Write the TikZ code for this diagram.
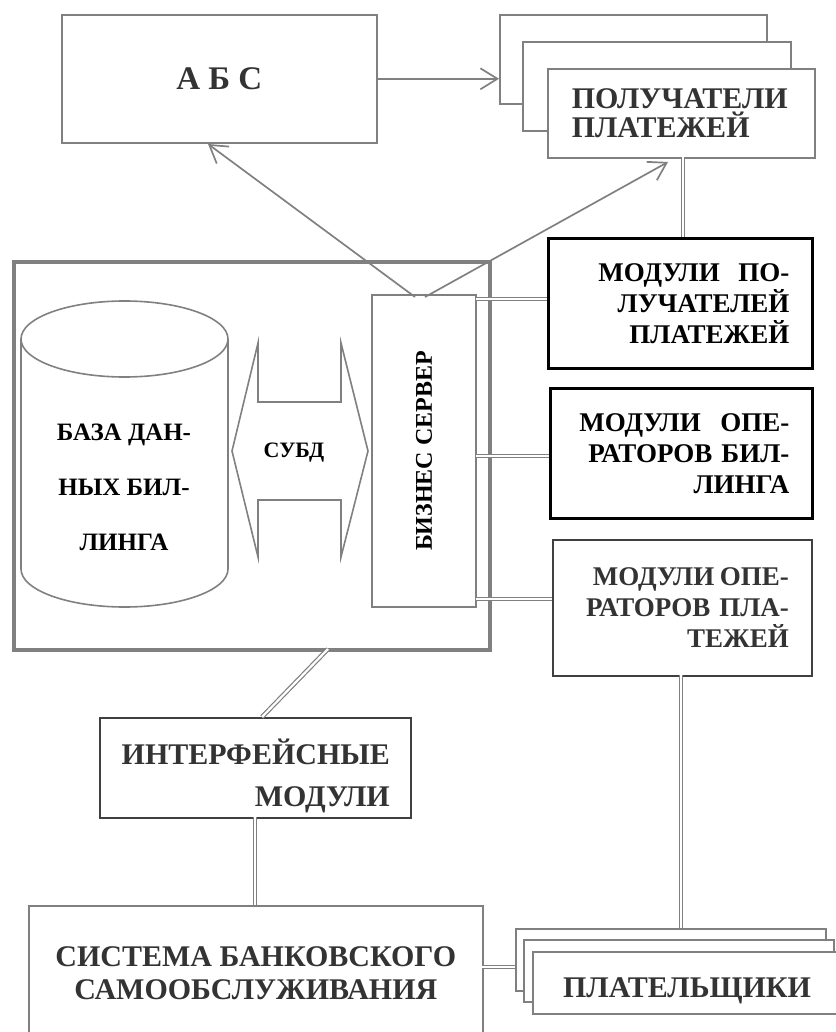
\documentclass[tikz,border=0pt]{standalone}
\usepackage{fontspec}
\setmainfont{Liberation Serif}
\usetikzlibrary{arrows.meta}
\definecolor{lg}{HTML}{808080}
\definecolor{tx}{HTML}{333333}
\definecolor{bd}{HTML}{404040}
\newcommand\myfs[2]{\fontsize{#1}{#2}\selectfont\bfseries}
\begin{document}
\begin{tikzpicture}[x=1pt,y=-1pt,
  box/.style={draw=lg, line width=1.6pt, fill=white, inner sep=0pt, anchor=north west},
  mbox/.style={draw=black, line width=2.8pt, fill=white, inner ysep=0pt, anchor=north west, align=right, text=black, font=\myfs{27}{31}},
  dbl/.style={draw=lg, double=white, double distance=2.2pt, line width=1.2pt},
  arr/.style={draw=lg, line width=1.7pt, -{Straight Barb[length=17pt,width=21pt]}},
  lbl/.style={inner sep=0pt, align=center}
]
\useasboundingbox (0,0) rectangle (835,1032);

% outer system frame
\node[box, line width=3.5pt, fill=none, minimum width=476pt, minimum height=388pt] (outer) at (12,260) {};

% database cylinder
\draw[draw=lg, line width=1.6pt] (124.5,339) ellipse[x radius=103.5pt, y radius=38pt];
\draw[draw=lg, line width=1.6pt] (21,339) -- (21,569) arc[start angle=180, end angle=360, x radius=103.5pt, y radius=38pt] -- (228,339);
\node[lbl, font=\myfs{25}{55}] (db) at (124,487) {БАЗА ДАН-\\НЫХ БИЛ-\\ЛИНГА};

% DBMS double arrow
\draw[draw=lg, line width=1.6pt] (232,451) -- (258,343) -- (258,402) -- (341,402) -- (341,343) -- (368,451) -- (341,557) -- (341,500) -- (258,500) -- (258,557) -- cycle;
\node[lbl, font=\myfs{22}{24}] (subd) at (294,453) {СУБД};

% business server
\node[box, minimum width=104pt, minimum height=312pt, anchor=center, font=\myfs{24}{26}] (srv) at (424,451) {\rotatebox{90}{БИЗНЕС СЕРВЕР}};

% ABS
\node[box, minimum width=315pt, minimum height=128pt, text=tx, font=\myfs{33}{35}] (abc) at (61,14) {А Б С};

% payment receivers stack
\node[box, minimum width=267pt, minimum height=89pt] (rb) at (499,14) {};
\node[box, minimum width=268pt, minimum height=89pt] (rm) at (522,41) {};
\node[box, text width=219pt, inner xsep=24pt, minimum height=89pt, align=left, text=tx, font=\myfs{30}{29}] (rf) at (547,68) {ПОЛУЧАТЕЛИ\\ПЛАТЕЖЕЙ};

% modules
\node[mbox, text width=218pt, inner xsep=23pt, minimum height=130pt] (m1) at (547,237) {\makebox[191pt][s]{МОДУЛИ\hspace{0pt plus 40pt}ПО-}\\ЛУЧАТЕЛЕЙ\\ПЛАТЕЖЕЙ};
\node[mbox, text width=216pt, inner xsep=23pt, minimum height=130pt] (m2) at (549,387) {\makebox[210pt][s]{МОДУЛИ\hspace{0pt plus 40pt}ОПЕ-}\\РАТОРОВ БИЛ-\\ЛИНГА};
\node[mbox, draw=bd, line width=1.8pt, text=tx, text width=213pt, inner xsep=23pt, minimum height=136pt] (m3) at (552,539) {\makebox[196pt][s]{МОДУЛИ\hspace{0pt plus 40pt}ОПЕ-}\\РАТОРОВ ПЛА-\\ТЕЖЕЙ};

% interface modules
\node[box, draw=bd, minimum width=311pt, minimum height=100pt] (ifm) at (99,717) {};
\node[lbl, align=right, anchor=east, text=tx, font=\myfs{30}{42}] (ifmt) at (390,776) {ИНТЕРФЕЙСНЫЕ\\МОДУЛИ};

% self-service system
\node[box, minimum width=454pt, minimum height=135pt, align=center, text=tx, font=\myfs{30}{33}] (sys) at (28,905) {СИСТЕМА БАНКОВСКОГО\\САМООБСЛУЖИВАНИЯ};

% payers stack
\node[box, minimum width=310pt, minimum height=62pt] (pb) at (515,928) {};
\node[box, minimum width=310pt, minimum height=62pt] (pm) at (523,939) {};
\node[box, minimum width=310pt, minimum height=62pt] (pf) at (532,951) {};
\node[lbl, anchor=base, text=tx, font=\myfs{30}{32}] (pft) at (687,997) {ПЛАТЕЛЬЩИКИ};

% connector anchor points
\coordinate (sa) at (415,297);
\coordinate (sb) at (425,297);
\coordinate (ta) at (208,144);
\coordinate (tb) at (668,162);
\coordinate (s1) at (476,299);
\coordinate (s2) at (476,456);
\coordinate (s3) at (476,599);
\coordinate (v1) at (683,157);
\coordinate (v2) at (681,675);
\coordinate (d1) at (328,649);
\coordinate (d2) at (262,717);
\coordinate (v3) at (255,817);
\coordinate (h1) at (482,967);

% arrows
\draw[arr] (abc.east) -- (abc.east -| rb.west);
\draw[arr] (sa) -- (ta);
\draw[arr] (sb) -- (tb);

% double connectors
\draw[dbl] (s1) -- (s1 -| m1.west);
\draw[dbl] (s2) -- (s2 -| m2.west);
\draw[dbl] (s3) -- (s3 -| m3.west);
\draw[dbl] (v1) -- (v1 |- m1.north);
\draw[dbl] (v2) -- (v2 |- pb.north);
\draw[dbl] (d1) -- (d2);
\draw[dbl] (v3) -- (v3 |- sys.north);
\draw[dbl] (h1) -- (h1 -| pb.west);
\end{tikzpicture}
\end{document}
